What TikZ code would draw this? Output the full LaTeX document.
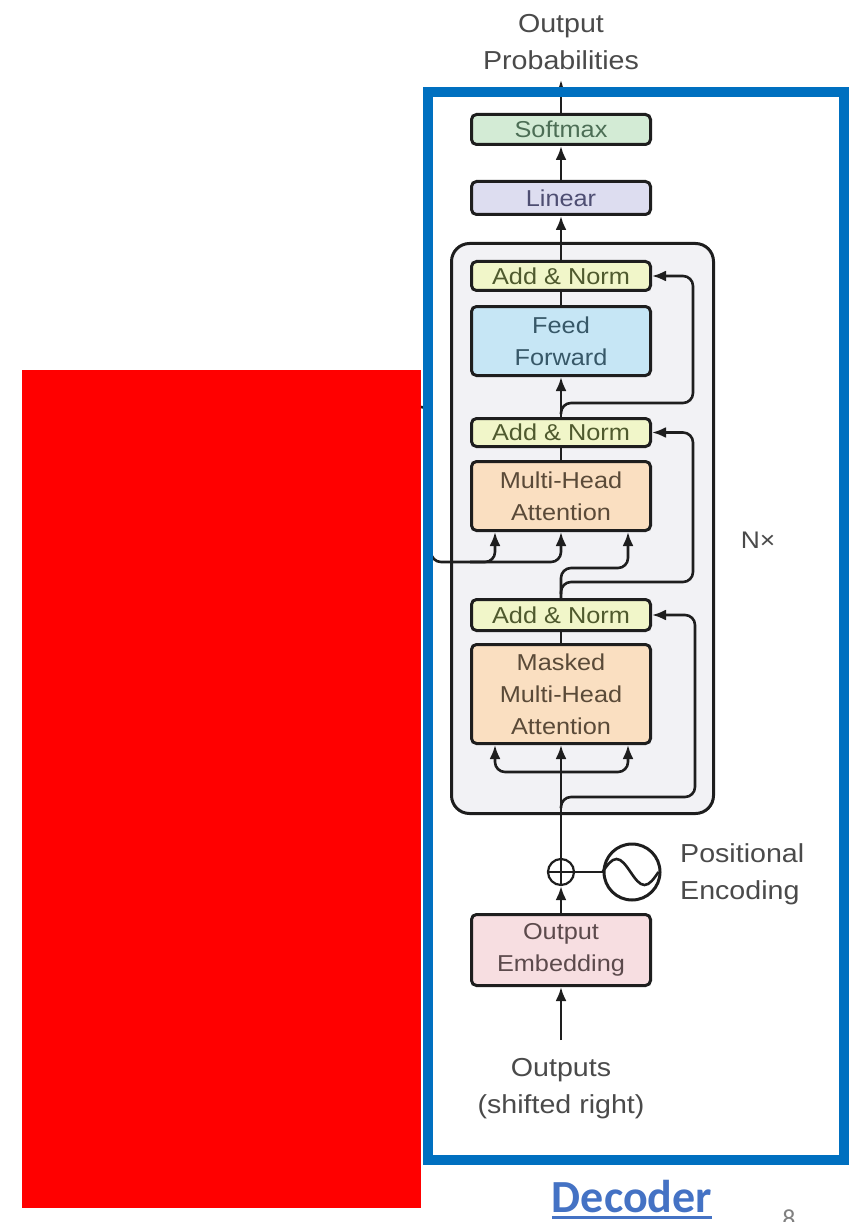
\documentclass[tikz,border=0pt]{standalone}
\usepackage{fontspec}
\setmainfont{Liberation Sans}[FakeStretch=1.1]
\newfontfamily\calibrifont{Carlito}
\usetikzlibrary{arrows.meta,calc}

\definecolor{linec}{HTML}{1E1E1E}
\definecolor{labc}{HTML}{4A4A4A}
\definecolor{framec}{HTML}{0070C0}
\definecolor{decblue}{HTML}{4472C4}
\definecolor{nxfill}{HTML}{F2F2F5}
\definecolor{smfill}{HTML}{D3EBD5}
\definecolor{smtext}{HTML}{4C6E55}
\definecolor{linfill}{HTML}{DDDDF0}
\definecolor{lintext}{HTML}{4E4E72}
\definecolor{anfill}{HTML}{F1F6C9}
\definecolor{antext}{HTML}{4F5A2E}
\definecolor{fffill}{HTML}{C6E6F5}
\definecolor{fftext}{HTML}{375868}
\definecolor{attfill}{HTML}{FADFC1}
\definecolor{atttext}{HTML}{5A4A38}
\definecolor{embfill}{HTML}{F7DEE1}
\definecolor{embtext}{HTML}{5C4A4C}

\newcommand\innerfont{\fontsize{23}{32}\selectfont}
\newcommand\outerfont{\fontsize{26}{37}\selectfont}

\begin{document}
\begin{tikzpicture}[x=1pt,y=-1pt,
  blk/.style={draw=linec, line width=3pt, rounded corners=5pt,
    minimum width=179pt, inner sep=0pt, align=center, font=\innerfont},
  wire/.style={draw=linec, line width=2.6pt},
  arr/.style={wire, -{Latex[length=14pt,width=11pt]}},
  lab/.style={text=labc, font=\outerfont, inner sep=0pt},
]
\useasboundingbox (0,0) rectangle (854,1222);

% repeated block of the decoder stack
\node[draw=linec, line width=3pt, fill=nxfill, rounded corners=18pt,
  minimum width=262pt, minimum height=570pt, inner sep=0pt] (nx) at (582.5,528.5) {};

% encoder output entering from the left
\coordinate (encin) at (415,407);
\draw[wire, rounded corners=10pt] (encin) -- (431,407) -- (431,562) -- (561,562) -- (561,545);

% blocks
\node[blk, fill=smfill, text=smtext, minimum height=30pt] (soft) at (561,129.5) {Softmax};
\node[blk, fill=linfill, text=lintext, minimum height=33pt] (lin) at (561,198) {Linear};
\node[blk, fill=anfill, text=antext, minimum height=29pt] (an1) at (561,276) {Add \& Norm};
\node[blk, fill=fffill, text=fftext, minimum height=69pt] (ff) at (561,341) {Feed\\Forward};
\node[blk, fill=anfill, text=antext, minimum height=28pt] (an2) at (561,432.5) {Add \& Norm};
\node[blk, fill=attfill, text=atttext, minimum height=69pt] (mha) at (561,496) {Multi-Head\\Attention};
\node[blk, fill=anfill, text=antext, minimum height=31pt] (an3) at (561,615) {Add \& Norm};
\node[blk, fill=attfill, text=atttext, minimum height=99pt] (mmha) at (561,694) {Masked\\Multi-Head\\Attention};
\node[blk, fill=embfill, text=embtext, minimum height=71pt] (emb) at (561,950) {Output\\Embedding};

% labels
\node[lab, align=center, anchor=south] (outprob) at (561,70) {Output\\Probabilities};
\coordinate (optip) at (561,80);
\node[lab, align=center, anchor=north] (outs) at (561,1058) {Outputs\\(shifted right)};
\coordinate (outstart) at (561,1040);
\node[lab, align=left, anchor=north west] (peLab) at (680,843) {Positional\\Encoding};
\node[text=labc, font=\fontsize{24}{24}\selectfont, inner sep=0pt] (nxlab) at (758,540) {N×};

% positional encoding
\node[circle, draw=linec, line width=2.2pt, minimum size=26pt, inner sep=0pt, fill=white] (plus) at (561,872) {};
\draw[draw=linec, line width=1.8pt] (plus.north) -- (plus.south) (plus.west) -- (plus.east);
\node[circle, draw=linec, line width=3pt, minimum size=56pt, inner sep=0pt] (pe) at (632,872) {};
\draw[wire] (pe.west) sin ++(14,-13) cos ++(14,13) sin ++(14,13) cos ++(14,-13);
\draw[wire] (plus.east) -- (pe.west);

% main data path
\draw[arr] (outstart) -- (emb.south);
\draw[arr] (emb.north) -- (plus.south);
\draw[arr] (plus.north) -- (mmha.south);
\draw[wire] (mmha.north) -- (an3.south);
\draw[wire] (mha.north) -- (an2.south);
\draw[arr] (an2.north) -- (ff.south);
\draw[wire] (ff.north) -- (an1.south);
\draw[arr] (an1.north) -- (lin.south);
\draw[arr] (lin.north) -- (soft.south);
\draw[arr] (soft.north) -- (optip);

% masked attention inputs
\draw[arr, rounded corners=10pt] (561,772) -| ($(mmha.south west)+(25,0)$);
\draw[arr, rounded corners=10pt] (561,772) -| ($(mmha.south east)+(-24,0)$);

% cross attention inputs
\draw[arr, rounded corners=10pt] (470,562) -| ($(mha.south west)+(25,0)$);
\draw[arr] (561,552) -- (mha.south);
\draw[arr, rounded corners=10pt] (an3.north) -- (561,568) -| ($(mha.south east)+(-24,0)$);

% residual connections
\draw[arr, rounded corners=10pt] (561,808) -- (561,797) -- (695,797) |- (an3.east);
\draw[arr, rounded corners=10pt] (561,594) -- (561,582) -- (693,582) |- (an2.east);
\draw[arr, rounded corners=10pt] (561,414) -- (561,403) -- (693,403) |- (an1.east);

% cover block and frame
\node[fill=red, minimum width=399pt, minimum height=838pt, inner sep=0pt] (cover) at (221.5,789) {};
\node[draw=framec, line width=10pt, minimum width=416pt, minimum height=1067.5pt, inner sep=0pt] (frame) at (636,626.25) {};

% caption and page number
\node[text=decblue, font=\calibrifont\bfseries\fontsize{46}{46}\selectfont, inner sep=0pt, anchor=base] (dec) at (632,1212) {Decoder};
\draw[draw=decblue, line width=3pt] ([yshift=-5pt]dec.base west) -- ([yshift=-5pt]dec.base east);
\node[text=gray, font=\calibrifont\fontsize{26}{26}\selectfont, inner sep=0pt, anchor=base] (pgnum) at (789,1227) {8};
\end{tikzpicture}
\end{document}
